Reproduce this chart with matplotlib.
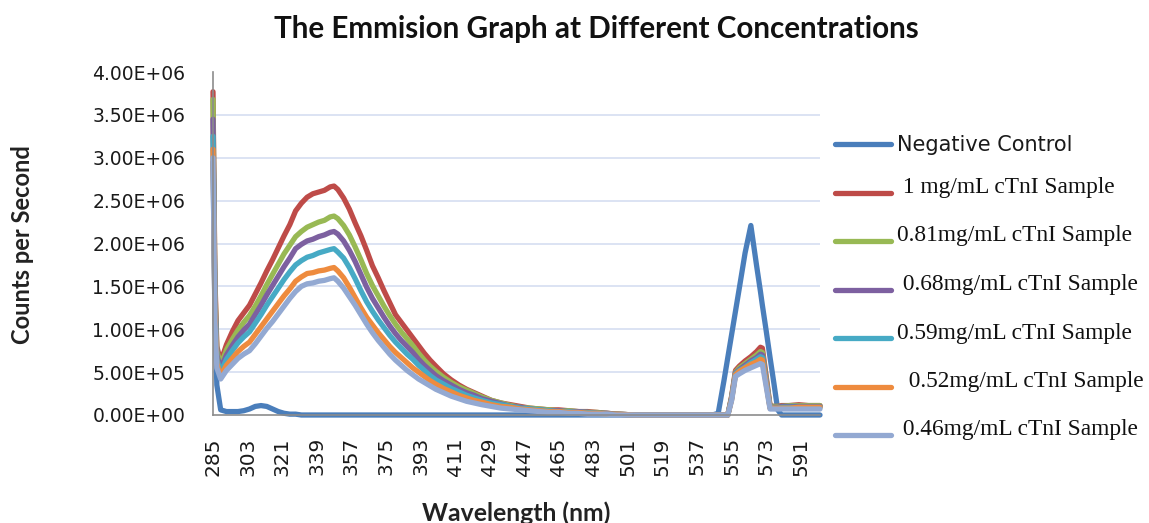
import numpy as np
import matplotlib
matplotlib.use("Agg")
import matplotlib.pyplot as plt
from matplotlib.lines import Line2D
from matplotlib.ticker import FuncFormatter

# ---- data (counts per second, in millions) ----
wavelength = [285, 286, 287, 289, 292, 295, 298, 301, 304, 307,
              310, 313, 316, 319, 322, 325, 328, 331, 334, 337,
              340, 343, 346, 348, 350, 353, 356, 359, 362, 365,
              368, 371, 374, 377, 380, 383, 386, 389, 392, 395,
              398, 401, 405, 409, 413, 417, 421, 425, 430, 435,
              440, 445, 450, 455, 460, 465, 470, 475, 480, 485,
              490, 495, 505, 515, 525, 535, 545, 548, 551, 553,
              555, 557, 559, 562, 565, 568, 570, 571, 573, 575,
              577, 579, 581, 585, 590, 595, 601]

negative_control = [2.95, 1.20, 0.35, 0.06, 0.04, 0.04, 0.04, 0.05, 0.07, 0.10,
                    0.11, 0.10, 0.07, 0.04, 0.02, 0.01, 0.01, 0.00, 0.00, 0.00,
                    0.00, 0.00, 0.00, 0.00, 0.00, 0.00, 0.00, 0.00, 0.00, 0.00,
                    0.00, 0.00, 0.00, 0.00, 0.00, 0.00, 0.00, 0.00, 0.00, 0.00,
                    0.00, 0.00, 0.00, 0.00, 0.00, 0.00, 0.00, 0.00, 0.00, 0.00,
                    0.00, 0.00, 0.00, 0.00, 0.00, 0.00, 0.00, 0.00, 0.00, 0.00,
                    0.00, 0.00, 0.00, 0.00, 0.00, 0.00, 0.00, 0.02, 0.40, 0.67,
                    0.94, 1.21, 1.48, 1.89, 2.21, 1.74, 1.44, 1.28, 0.98, 0.67,
                    0.37, 0.06, 0.00, 0.00, 0.00, 0.00, 0.00]

sample_1_00 = [3.77, 1.60, 0.80, 0.62, 0.82, 0.97, 1.10, 1.19, 1.28, 1.41,
               1.54, 1.68, 1.81, 1.95, 2.09, 2.22, 2.38, 2.47, 2.54, 2.58,
               2.60, 2.62, 2.66, 2.67, 2.63, 2.53, 2.40, 2.24, 2.09, 1.92,
               1.74, 1.60, 1.45, 1.31, 1.17, 1.08, 0.99, 0.90, 0.81, 0.72,
               0.64, 0.57, 0.48, 0.41, 0.35, 0.30, 0.26, 0.22, 0.17, 0.14,
               0.12, 0.10, 0.08, 0.07, 0.06, 0.06, 0.05, 0.04, 0.04, 0.03,
               0.02, 0.01, 0.00, 0.00, 0.00, 0.00, 0.00, 0.00, 0.00, 0.00,
               0.22, 0.52, 0.57, 0.63, 0.68, 0.74, 0.79, 0.78, 0.45, 0.11,
               0.10, 0.10, 0.11, 0.11, 0.12, 0.11, 0.11]

sample_0_81 = [3.68, 1.50, 0.75, 0.58, 0.76, 0.88, 0.99, 1.08, 1.16, 1.27,
               1.39, 1.52, 1.64, 1.76, 1.88, 1.98, 2.08, 2.14, 2.19, 2.22,
               2.25, 2.27, 2.31, 2.32, 2.29, 2.21, 2.10, 1.96, 1.81, 1.65,
               1.51, 1.39, 1.27, 1.16, 1.06, 0.97, 0.89, 0.81, 0.72, 0.64,
               0.57, 0.51, 0.44, 0.38, 0.33, 0.29, 0.25, 0.21, 0.17, 0.14,
               0.11, 0.09, 0.08, 0.07, 0.06, 0.05, 0.05, 0.04, 0.03, 0.03,
               0.02, 0.01, 0.00, 0.00, 0.00, 0.00, 0.00, 0.00, 0.00, 0.00,
               0.21, 0.50, 0.55, 0.60, 0.65, 0.70, 0.74, 0.73, 0.42, 0.10,
               0.10, 0.10, 0.10, 0.11, 0.11, 0.11, 0.11]

sample_0_68 = [3.45, 1.40, 0.70, 0.54, 0.70, 0.81, 0.91, 0.99, 1.06, 1.17,
               1.28, 1.40, 1.51, 1.62, 1.73, 1.83, 1.94, 1.99, 2.03, 2.05,
               2.08, 2.10, 2.13, 2.14, 2.11, 2.03, 1.92, 1.79, 1.64, 1.49,
               1.36, 1.25, 1.14, 1.04, 0.95, 0.87, 0.80, 0.73, 0.65, 0.58,
               0.52, 0.46, 0.40, 0.35, 0.30, 0.26, 0.23, 0.19, 0.16, 0.13,
               0.10, 0.09, 0.07, 0.06, 0.05, 0.05, 0.04, 0.04, 0.03, 0.02,
               0.02, 0.01, 0.00, 0.00, 0.00, 0.00, 0.00, 0.00, 0.00, 0.00,
               0.20, 0.49, 0.53, 0.58, 0.63, 0.67, 0.71, 0.70, 0.40, 0.09,
               0.09, 0.09, 0.10, 0.10, 0.10, 0.10, 0.10]

sample_0_59 = [3.25, 1.30, 0.65, 0.50, 0.65, 0.75, 0.84, 0.91, 0.97, 1.07,
               1.17, 1.28, 1.38, 1.48, 1.58, 1.67, 1.75, 1.80, 1.84, 1.86,
               1.89, 1.91, 1.93, 1.94, 1.90, 1.83, 1.72, 1.59, 1.45, 1.32,
               1.21, 1.11, 1.02, 0.93, 0.85, 0.78, 0.71, 0.65, 0.58, 0.52,
               0.46, 0.41, 0.36, 0.31, 0.27, 0.23, 0.20, 0.17, 0.14, 0.12,
               0.10, 0.08, 0.07, 0.06, 0.05, 0.04, 0.04, 0.03, 0.03, 0.02,
               0.01, 0.01, 0.00, 0.00, 0.00, 0.00, 0.00, 0.00, 0.00, 0.00,
               0.19, 0.48, 0.52, 0.56, 0.61, 0.65, 0.68, 0.67, 0.38, 0.09,
               0.08, 0.08, 0.09, 0.09, 0.09, 0.09, 0.09]

sample_0_52 = [3.10, 1.20, 0.60, 0.46, 0.58, 0.66, 0.74, 0.80, 0.85, 0.94,
               1.03, 1.12, 1.21, 1.30, 1.39, 1.47, 1.56, 1.61, 1.65, 1.66,
               1.68, 1.69, 1.71, 1.72, 1.68, 1.60, 1.49, 1.37, 1.25, 1.14,
               1.05, 0.96, 0.88, 0.80, 0.73, 0.67, 0.61, 0.55, 0.50, 0.45,
               0.40, 0.36, 0.31, 0.27, 0.23, 0.20, 0.17, 0.15, 0.12, 0.10,
               0.09, 0.07, 0.06, 0.05, 0.04, 0.04, 0.03, 0.03, 0.02, 0.02,
               0.01, 0.01, 0.00, 0.00, 0.00, 0.00, 0.00, 0.00, 0.00, 0.00,
               0.18, 0.47, 0.51, 0.55, 0.59, 0.62, 0.65, 0.64, 0.36, 0.08,
               0.08, 0.08, 0.08, 0.08, 0.09, 0.09, 0.09]

sample_0_46 = [3.00, 1.10, 0.55, 0.42, 0.52, 0.59, 0.66, 0.71, 0.75, 0.83,
               0.92, 1.01, 1.09, 1.18, 1.27, 1.36, 1.44, 1.50, 1.53, 1.54,
               1.56, 1.57, 1.59, 1.60, 1.56, 1.48, 1.38, 1.28, 1.17, 1.06,
               0.96, 0.87, 0.79, 0.71, 0.64, 0.58, 0.52, 0.47, 0.42, 0.38,
               0.34, 0.30, 0.26, 0.22, 0.19, 0.16, 0.14, 0.12, 0.10, 0.08,
               0.07, 0.06, 0.05, 0.04, 0.03, 0.03, 0.02, 0.02, 0.01, 0.01,
               0.01, 0.00, 0.00, 0.00, 0.00, 0.00, 0.00, 0.00, 0.00, 0.00,
               0.17, 0.45, 0.48, 0.52, 0.55, 0.58, 0.60, 0.59, 0.33, 0.07,
               0.07, 0.07, 0.07, 0.07, 0.07, 0.07, 0.07]

series_labels = ["Negative Control",
                 " 1 mg/mL cTnI Sample",
                 "0.81mg/mL cTnI Sample",
                 " 0.68mg/mL cTnI Sample",
                 "0.59mg/mL cTnI Sample",
                 "  0.52mg/mL cTnI Sample",
                 " 0.46mg/mL cTnI Sample"]
series_values = [negative_control, sample_1_00, sample_0_81, sample_0_68,
                 sample_0_59, sample_0_52, sample_0_46]
series_colors = ["#4A7EBB", "#BE4B48", "#98B954", "#7D60A0",
                 "#46AAC5", "#EE8B3E", "#93A9D2"]

x_ticks = [285, 303, 321, 339, 357, 375, 393, 411, 429, 447,
           465, 483, 501, 519, 537, 555, 573, 591]
y_ticks = [0.0, 0.5e6, 1.0e6, 1.5e6, 2.0e6, 2.5e6, 3.0e6, 3.5e6, 4.0e6]

# ---- figure ----
W, H = 1149, 523
fig = plt.figure(figsize=(W / 100, H / 100), dpi=100)
fig.patch.set_facecolor("white")
ax = fig.add_axes([213 / W, 1 - 415 / H, (820 - 213) / W, (415 - 72) / H])

# horizontal gridlines (not at the top of the value axis)
for level in y_ticks[1:-1]:
    ax.axhline(level, color="#D9E1F2", lw=1.3, zorder=0)

x = np.asarray(wavelength, dtype=float)
for color, vals in zip(series_colors, series_values):
    ax.plot(x, np.asarray(vals) * 1e6, color=color, lw=3.8,
            solid_joinstyle="round", solid_capstyle="round",
            clip_on=False, zorder=2)

ax.set_xlim(285, 601)
ax.set_ylim(0, 4e6)
ax.set_xticks(x_ticks)
ax.set_xticklabels([str(t) for t in x_ticks], rotation=90, family="DejaVu Sans")
ax.set_yticks(y_ticks)
ax.yaxis.set_major_formatter(FuncFormatter(lambda v, _: f"{v:.2E}"))
ax.tick_params(axis="y", length=0, pad=20, labelsize=13.5, labelcolor="#1A1A1A")
ax.tick_params(axis="x", length=0, pad=16, labelsize=14.5, labelcolor="#1A1A1A")

for side in ("top", "right"):
    ax.spines[side].set_visible(False)
for side in ("left", "bottom"):
    ax.spines[side].set_color("#8C8C8C")
    ax.spines[side].set_linewidth(1.2)

# ---- titles ----
renderer = fig.canvas.get_renderer()


def fit_width(txt, target_px):
    bb = txt.get_window_extent(renderer)
    txt.set_fontsize(txt.get_fontsize() * target_px / bb.width)


title = fig.text(596 / W, 1 - 38 / H, "The Emmision Graph at Different Concentrations",
                 ha="center", va="baseline", fontsize=16, fontweight="bold",
                 family="Lato", color="#111111")
fit_width(title, 650)

ylab = fig.text(23 / W, 1 - 245 / H, "Counts per Second", rotation=90,
                ha="center", va="center", fontsize=14, fontweight="bold",
                family="Lato", color="#222222")
bb = ylab.get_window_extent(renderer)
ylab.set_fontsize(ylab.get_fontsize() * 200 / bb.height)

xlab = fig.text(516 / W, 1 - 521 / H, "Wavelength (nm)", ha="center",
                va="baseline", fontsize=14, fontweight="bold",
                family="Lato", color="#222222")
fit_width(xlab, 190)

# ---- legend ----
for i, (label, color) in enumerate(zip(series_labels, series_colors)):
    ly = 144 + i * 48.5
    fig.add_artist(Line2D([835 / W, 891 / W], [1 - ly / H] * 2,
                          transform=fig.transFigure, color=color, lw=3.8,
                          solid_capstyle="round"))
    if i == 0:
        fig.text(897 / W, 1 - (ly + 1) / H, label, ha="left", va="center",
                 fontsize=15, family="DejaVu Sans", color="#1A1A1A")
    else:
        fig.text(897 / W, 1 - (ly - 5) / H, label, ha="left", va="center",
                 fontsize=16.8, family="Liberation Serif", color="#111111")

fig.savefig("out.png", dpi=100, facecolor="white")
